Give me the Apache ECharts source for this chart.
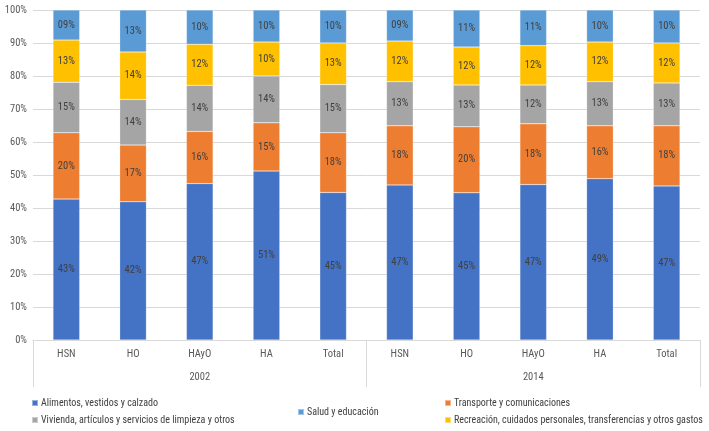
<!DOCTYPE html>
<html>
<head>
<meta charset="utf-8">
<script src="https://cdn.jsdelivr.net/npm/echarts@6/dist/echarts.min.js"></script>
<style>html,body{margin:0;padding:0;background:#fff}#c{width:709px;height:431px}</style>
</head>
<body>
<div id="c"></div>
<script>
const categories = ['HSN','HO','HAyO','HA','Total','HSN','HO','HAyO','HA','Total'];
const years = ['2002','2014'];
const yTicks = [0,10,20,30,40,50,60,70,80,90,100];
const alimentos  = [42.7, 41.9, 47.4, 51.2, 44.7, 47.0, 44.6, 47.1, 48.9, 46.7];
const transporte = [20.1, 17.2, 15.8, 14.6, 18.1, 17.9, 20.0, 18.4, 16.0, 18.2];
const vivienda   = [15.3, 13.8, 14.0, 14.2, 14.6, 13.4, 12.7, 11.8, 13.4, 13.0];
const recreacion = [12.8, 14.4, 12.4, 10.3, 12.6, 12.3, 11.5, 11.9, 12.0, 12.1];
const salud      = [ 9.1, 12.7, 10.4,  9.7, 10.0,  9.4, 11.2, 10.8,  9.7, 10.0];
const names = {
  a: 'Alimentos, vestidos y calzado',
  t: 'Transporte y comunicaciones',
  v: 'Vivienda, artículos y servicios de limpieza y otros',
  r: 'Recreación, cuidados personales, transferencias y otros gastos',
  s: 'Salud y educación'
};
const FONT = "'Roboto Condensed', 'Fira Sans Condensed', 'DejaVu Sans Condensed', sans-serif";
const chart = echarts.init(document.getElementById('c'));
function ser(name, data, color) {
  return {
    name, type: 'bar', stack: 'x', data, barWidth: '40%',
    itemStyle: { color, borderColor: 'rgba(255,255,255,0.45)', borderWidth: 0.5 },
    label: {
      show: true, position: 'inside', color: '#404040', fontSize: 10.5, fontFamily: FONT,
      formatter: p => String(Math.round(p.value)).padStart(2, '0') + '%'
    }
  };
}
const legendText = { color: '#404040', fontSize: 10, fontFamily: FONT, padding: [0, 0, 0, -2] };
const legBase = { orient: 'vertical', itemWidth: 6, itemHeight: 6, itemGap: 7, icon: 'rect', padding: 0, textStyle: legendText };
chart.setOption({
  animation: false,
  grid: { left: 33, right: 9, top: 10, bottom: 91 },
  legend: [
    Object.assign({ left: 31, top: 398, data: [names.a, names.v] }, legBase),
    Object.assign({ left: 297, top: 407, data: [names.s] }, legBase),
    Object.assign({ left: 444, top: 398, data: [names.t, names.r] }, legBase)
  ],
  xAxis: [
    { type: 'category', data: categories, position: 'bottom',
      axisLine: { show: true, lineStyle: { color: '#d9d9d9' } },
      axisTick: { show: false },
      axisLabel: { color: '#595959', fontSize: 10.5, fontFamily: FONT, margin: 9, interval: 0 } },
    { type: 'category', data: years, position: 'bottom',
      axisLine: { show: false },
      axisTick: { show: true, length: 47, lineStyle: { color: '#d9d9d9' } },
      axisLabel: { color: '#595959', fontSize: 10.5, fontFamily: FONT, margin: 32 } }
  ],
  yAxis: {
    type: 'value', min: yTicks[0], max: yTicks[yTicks.length-1], interval: 10,
    axisLine: { show: false }, axisTick: { show: false },
    splitLine: { lineStyle: { color: '#d9d9d9' } },
    axisLabel: { color: '#595959', fontSize: 10.5, fontFamily: FONT, margin: 6, formatter: '{value}%' }
  },
  series: [
    ser(names.a, alimentos, '#4472C4'),
    ser(names.t, transporte, '#ED7D31'),
    ser(names.v, vivienda, '#A5A5A5'),
    ser(names.r, recreacion, '#FFC000'),
    ser(names.s, salud, '#5B9BD5')
  ]
});
</script>
</body>
</html>
